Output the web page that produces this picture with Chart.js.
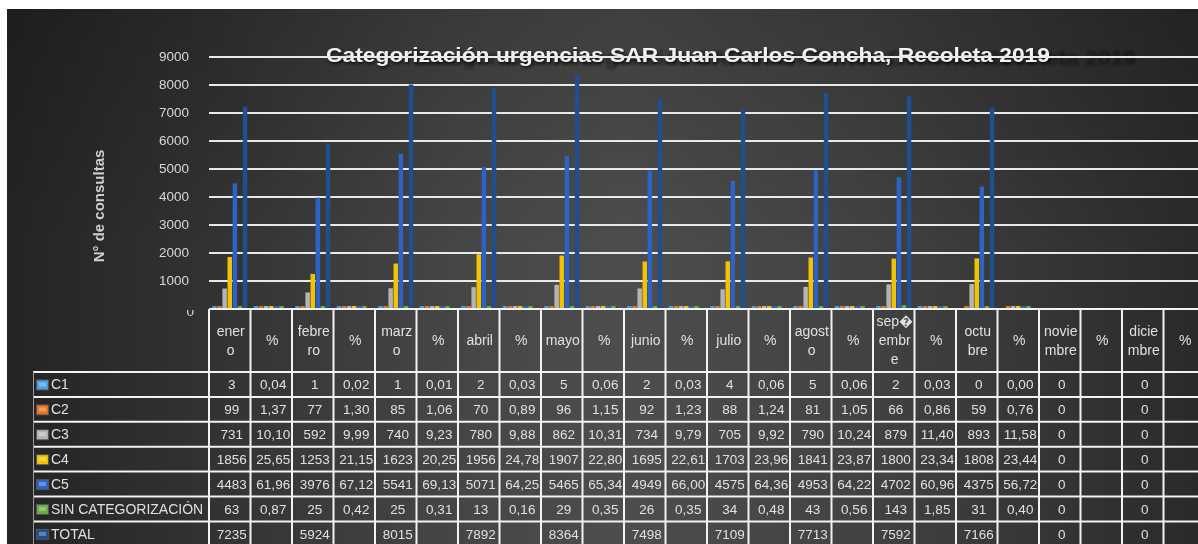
<!DOCTYPE html>
<html lang="es">
<head>
<meta charset="utf-8">
<title>Categorización urgencias SAR Juan Carlos Concha, Recoleta 2019</title>
<script src="https://cdn.jsdelivr.net/npm/chart.js"></script>
<style>
    html, body { margin: 0; padding: 0; background: #fff; overflow: hidden; }
    #wrap { position: relative; width: 1198px; height: 544px; overflow: hidden; }
    #bg {
        position: absolute; left: 7px; top: 9px; right: 0; bottom: 0;
        background: linear-gradient(90deg, #242424 0%, #333 18%, #464646 38%, #4d4d4d 52%, #424242 72%, #2a2a2a 100%);
    }
    #bg::after {
        content: ''; position: absolute; left: 0; top: 0; right: 0; bottom: 0;
        background: linear-gradient(180deg, rgba(0,0,0,0.18) 0%, rgba(0,0,0,0) 45%);
    }
    #chart { position: absolute; left: 0; top: 0; }
</style>
</head>
<body>
<div id="wrap">
    <div id="bg"></div>
    <canvas id="chart" width="1210" height="544"></canvas>
</div>
<script>
const chartTitle = 'Categorización urgencias SAR Juan Carlos Concha, Recoleta 2019';
const yTitle = 'N° de consultas';

// month headers, split the way the table cells wrap them
const months = [
    ['ener', 'o'], ['febre', 'ro'], ['marz', 'o'], ['abril'], ['mayo'], ['junio'],
    ['julio'], ['agost', 'o'], ['sep\uFFFD', 'embr', 'e'], ['octu', 'bre'], ['novie', 'mbre'], ['dicie', 'mbre']
];

const seriesNames = ['C1', 'C2', 'C3', 'C4', 'C5', 'SIN CATEGORIZACIÓN', 'TOTAL'];
const seriesColors = ['#4a9fdf', '#e7741f', '#b4b4b4', '#f1c300', '#2d62c7', '#67ad45', '#1f4f8f'];

// consultations per month
const c1 = [3, 1, 1, 2, 5, 2, 4, 5, 2, 0, 0, 0];
const c2 = [99, 77, 85, 70, 96, 92, 88, 81, 66, 59, 0, 0];
const c3 = [731, 592, 740, 780, 862, 734, 705, 790, 879, 893, 0, 0];
const c4 = [1856, 1253, 1623, 1956, 1907, 1695, 1703, 1841, 1800, 1808, 0, 0];
const c5 = [4483, 3976, 5541, 5071, 5465, 4949, 4575, 4953, 4702, 4375, 0, 0];
const sinCat = [63, 25, 25, 13, 29, 26, 34, 43, 143, 31, 0, 0];
const total = [7235, 5924, 8015, 7892, 8364, 7498, 7109, 7713, 7592, 7166, 0, 0];

// share of the monthly total (%)
const c1Pct = [0.04, 0.02, 0.01, 0.03, 0.06, 0.03, 0.06, 0.06, 0.03, 0.00, null, null];
const c2Pct = [1.37, 1.30, 1.06, 0.89, 1.15, 1.23, 1.24, 1.05, 0.86, 0.76, null, null];
const c3Pct = [10.10, 9.99, 9.23, 9.88, 10.31, 9.79, 9.92, 10.24, 11.40, 11.58, null, null];
const c4Pct = [25.65, 21.15, 20.25, 24.78, 22.80, 22.61, 23.96, 23.87, 23.34, 23.44, null, null];
const c5Pct = [61.96, 67.12, 69.13, 64.25, 65.34, 66.00, 64.36, 64.22, 60.96, 56.72, null, null];
const sinCatPct = [0.87, 0.42, 0.31, 0.16, 0.35, 0.35, 0.48, 0.56, 1.85, 0.40, null, null];
const totalPct = [null, null, null, null, null, null, null, null, null, null, null, null];

const yTicks = [0, 1000, 2000, 3000, 4000, 5000, 6000, 7000, 8000, 9000];

// every month is followed by its % column
const categories = months.flatMap(m => [m, '%']);
const interleave = (counts, pct) => counts.flatMap((v, i) => [v, pct[i]]);

const rows = [
    interleave(c1, c1Pct),
    interleave(c2, c2Pct),
    interleave(c3, c3Pct),
    interleave(c4, c4Pct),
    interleave(c5, c5Pct),
    interleave(sinCat, sinCatPct),
    interleave(total, totalPct)
];

const font = '"Liberation Sans", Arial, sans-serif';

const formatCell = (value, col) => {
    if (value === null) return '';
    return col % 2 === 1 ? value.toFixed(2).replace('.', ',') : String(value);
};

// title sits under the gridlines, with its soft dark ghost to the right
const drawTitle = (chart) => {
    const ctx = chart.ctx;
    const cx = 688, cy = 57;
    const stretch = 1.17;

    ctx.save();
    ctx.translate(cx, cy);
    ctx.scale(stretch, 1);
    ctx.font = 'bold 19.5px ' + font;
    ctx.textAlign = 'center';
    ctx.textBaseline = 'middle';
    ctx.filter = 'blur(1.5px)';
    ctx.fillStyle = 'rgba(0,0,0,0.45)';
    ctx.fillText(chartTitle, 86 / stretch, 3);
    ctx.restore();

    ctx.save();
    ctx.translate(cx, cy);
    ctx.scale(stretch, 1);
    ctx.font = 'bold 19.5px ' + font;
    ctx.textAlign = 'center';
    ctx.textBaseline = 'middle';
    ctx.shadowColor = 'rgba(0,0,0,0.75)';
    ctx.shadowBlur = 3;
    ctx.shadowOffsetX = 1;
    ctx.shadowOffsetY = 2;
    ctx.fillStyle = '#f2f2f2';
    ctx.fillText(chartTitle, 0, 0);
    ctx.restore();
};

// small legend key in front of each row name
const drawKey = (ctx, x, y, color) => {
    ctx.fillStyle = '#555';
    ctx.fillRect(x - 1, y - 1, 13, 11);
    ctx.fillStyle = color;
    ctx.fillRect(x, y, 11, 9);
    ctx.fillStyle = 'rgba(255,255,255,0.3)';
    ctx.fillRect(x + 2, y + 2, 7, 4);
};

// data table under the plot, columns taken from the x scale
const drawTable = (chart) => {
    const ctx = chart.ctx;
    const xs = chart.scales.x;
    const colW = (xs.right - xs.left) / categories.length;
    const top = chart.chartArea.bottom;
    const headerBottom = top + 63;
    const rowH = 24.9;
    const labelLeft = 33;
    const bottom = chart.height;

    ctx.save();
    ctx.fillStyle = '#e0e0e0';
    ctx.textBaseline = 'middle';

    // header cells
    ctx.font = '14px ' + font;
    ctx.textAlign = 'center';
    categories.forEach((label, col) => {
        const cx = xs.getPixelForValue(col) + 1;
        const lines = Array.isArray(label) ? label : [label];
        const startY = (top + headerBottom) / 2 - (lines.length - 1) * 19 / 2 + 1;
        lines.forEach((line, k) => {
            ctx.save();
            ctx.beginPath();
            ctx.rect(xs.left + col * colW + 1, top, colW - 2, headerBottom - top);
            ctx.clip();
            ctx.fillStyle = '#e0e0e0';
            ctx.fillText(line, cx, startY + k * 19);
            ctx.restore();
        });
    });

    // body rows
    rows.forEach((row, r) => {
        const y0 = headerBottom + r * rowH;
        const cy = y0 + rowH / 2 + 1;
        drawKey(ctx, 37, cy - 5, seriesColors[r]);
        ctx.fillStyle = '#e0e0e0';
        ctx.font = '14px ' + font;
        ctx.textAlign = 'left';
        ctx.fillText(seriesNames[r], 51, cy);

        ctx.font = '13.5px ' + font;
        ctx.textAlign = 'center';
        row.forEach((value, col) => {
            const text = formatCell(value, col);
            if (!text) return;
            ctx.save();
            ctx.beginPath();
            ctx.rect(xs.left + col * colW + 1, y0, colW - 2, rowH);
            ctx.clip();
            ctx.fillStyle = '#e0e0e0';
            ctx.fillText(text, xs.getPixelForValue(col) + 2, cy);
            ctx.restore();
        });
    });

    // grid of the table
    ctx.strokeStyle = '#f2f2f2';
    ctx.lineWidth = 2;
    ctx.beginPath();
    ctx.moveTo(xs.left, top);
    ctx.lineTo(xs.right, top);
    for (let r = 0; r <= rows.length; r++) {
        const y = headerBottom + r * rowH;
        ctx.moveTo(labelLeft, y);
        ctx.lineTo(xs.right, y);
    }
    for (let col = 0; col <= categories.length; col++) {
        const x = xs.left + col * colW;
        ctx.moveTo(x, top);
        ctx.lineTo(x, bottom);
    }
    ctx.stroke();

    ctx.strokeStyle = '#9a9a9a';
    ctx.lineWidth = 1;
    ctx.beginPath();
    ctx.moveTo(labelLeft + 0.5, headerBottom);
    ctx.lineTo(labelLeft + 0.5, bottom);
    ctx.stroke();

    // the zero tick label is half hidden behind the table edge
    ctx.save();
    ctx.beginPath();
    ctx.rect(150, top + 1, 50, 20);
    ctx.clip();
    ctx.fillStyle = '#d8d8d8';
    ctx.font = '13.5px ' + font;
    ctx.textAlign = 'right';
    ctx.fillText('0', 194, top + 3);
    ctx.restore();

    // vertical axis title
    ctx.translate(100, 206);
    ctx.rotate(-Math.PI / 2);
    ctx.font = 'bold 15px ' + font;
    ctx.fillStyle = '#cfcfcf';
    ctx.textAlign = 'center';
    ctx.fillText(yTitle, 0, 0);
    ctx.restore();
};

const tablePlugin = {
    id: 'dataTable',
    beforeDraw: drawTitle,
    afterDraw: drawTable
};

const myChart = document.getElementById('chart');

let chart = new Chart(myChart, {
    type: 'bar',
    data: {
        labels: categories,
        datasets: rows.map((row, r) => ({
            label: seriesNames[r],
            // zero means nothing to draw
            data: row.map(v => (v ? v : null)),
            backgroundColor: seriesColors[r],
            borderWidth: 0,
            barPercentage: 0.88,
            categoryPercentage: 0.86,
            minBarLength: 3
        }))
    },
    options: {
        responsive: false,
        animation: false,
        layout: {
            padding: { left: 0, right: 5, top: 57, bottom: 235 }
        },
        plugins: {
            legend: { display: false },
            title: { display: false },
            tooltip: { enabled: false }
        },
        scales: {
            x: {
                display: false
            },
            y: {
                min: yTicks[0],
                max: yTicks[yTicks.length - 1],
                afterFit: (scale) => { scale.width = 209; },
                afterBuildTicks: (scale) => { scale.ticks = yTicks.map(v => ({ value: v })); },
                ticks: {
                    padding: 20,
                    color: '#d8d8d8',
                    font: { family: font, size: 13.5 },
                    callback: (v) => (v === 0 ? '' : v)
                },
                grid: {
                    color: '#e8e8e8',
                    lineWidth: 2,
                    drawTicks: false
                },
                border: { display: false }
            }
        }
    },
    plugins: [tablePlugin]
});
</script>
</body>
</html>
